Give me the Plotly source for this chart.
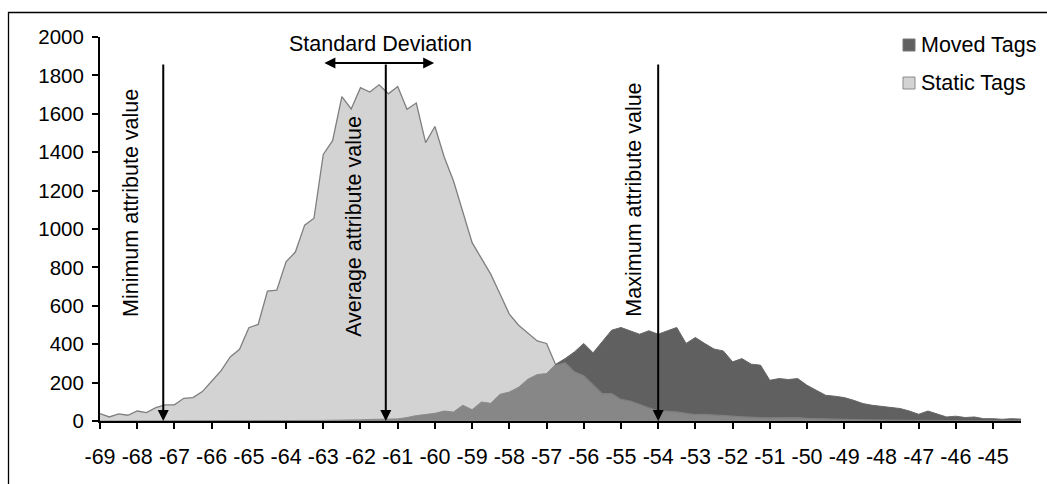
import plotly.graph_objects as go

# RSSI bins (dBm), quarter-dB resolution
rssi = [-69 + 0.25 * k for k in range(100)]

static_tags = [
    39, 21, 37, 30, 52, 44, 70, 84, 84, 118,
    122, 153, 207, 261, 334, 373, 486, 503, 677, 681,
    829, 880, 1020, 1056, 1388, 1460, 1690, 1625, 1736, 1713,
    1751, 1704, 1742, 1624, 1656, 1450, 1534, 1375, 1250, 1090,
    929, 847, 765, 661, 557, 499, 456, 417, 404, 290,
    303, 256, 236, 190, 142, 143, 112, 104, 85, 69,
    52, 48, 47, 39, 33, 34, 32, 30, 25, 22,
    18, 17, 16, 17, 20, 18, 14, 12, 10, 9,
    8, 7, 6, 5, 5, 4, 4, 3, 3, 3,
    2, 2, 2, 2, 1, 1, 1, 1, 1, 1,
]

moved_tags = [
    0, 0, 0, 0, 0, 0, 0, 0, 0, 0,
    0, 0, 1, 1, 1, 1, 1, 2, 2, 2,
    2, 2, 3, 3, 3, 4, 4, 5, 6, 8,
    9, 9, 11, 18, 28, 34, 40, 52, 47, 82,
    59, 99, 92, 139, 151, 176, 218, 242, 247, 296,
    325, 360, 404, 355, 412, 473, 487, 470, 452, 470,
    452, 470, 487, 404, 435, 404, 375, 365, 308, 325,
    296, 291, 212, 221, 216, 221, 186, 160, 134, 129,
    122, 108, 91, 82, 77, 73, 65, 52, 35, 52,
    35, 21, 25, 18, 21, 12, 12, 9, 12, 10,
]

x_ticks = list(range(-69, -44))
x_tick_text = [str(v) for v in x_ticks]  # plain hyphen-minus
y_ticks = list(range(0, 2001, 200))

# marker positions (dBm) and arrow top (count)
min_value = -67.3
avg_value = -61.32
max_value = -54.0
std_low, std_high = -63.01, -60.02
arrow_top = 1865

FONT = "Liberation Sans, Arial, sans-serif"
FS = 21.5

W, H = 1047, 484
ML, MR, MT, MB = 100, 26, 37, 63
PW, PH = W - ML - MR, H - MT - MB


def px(xp):
    return (xp - ML) / PW


def py(yp):
    return (H - MB - yp) / PH


fig = go.Figure()
fig.add_trace(go.Scatter(
    x=rssi, y=moved_tags, mode="lines", fill="tozeroy",
    fillcolor="#606060", line=dict(color="#676767", width=1),
    name="Moved Tags", showlegend=False, hoverinfo="skip",
))
fig.add_trace(go.Scatter(
    x=rssi, y=static_tags, mode="lines", fill="tozeroy",
    fillcolor="rgba(171,171,171,0.525)", line=dict(color="#7f7f7f", width=1.3),
    name="Static Tags", showlegend=False, hoverinfo="skip",
))

annotations = []


def v_arrow(xv):
    annotations.append(dict(
        x=xv, y=0, ax=xv, ay=arrow_top, xref="x", yref="y", axref="x", ayref="y",
        showarrow=True, arrowhead=2, arrowsize=1.1, arrowwidth=2,
        arrowcolor="black", text="",
    ))


for v in (min_value, avg_value, max_value):
    v_arrow(v)

annotations.append(dict(
    x=std_high, y=arrow_top, ax=std_low, ay=arrow_top,
    xref="x", yref="y", axref="x", ayref="y",
    showarrow=True, arrowhead=2, startarrowhead=2, arrowside="end+start",
    arrowsize=1.1, startarrowsize=1.1, arrowwidth=2, arrowcolor="black", text="",
))


def label(text, xv, yv, angle=-90):
    annotations.append(dict(
        x=xv, y=yv, xref="x", yref="y", text=text, showarrow=False,
        textangle=angle, font=dict(family=FONT, size=FS, color="black"),
        xanchor="center", yanchor="middle",
    ))


label("Minimum attribute value", -68.17, 1135)
label("Average attribute value", -62.17, 1012)
label("Maximum attribute value", -54.66, 1151)
label("Standard Deviation", -61.47, 1965, angle=0)

# legend
shapes = [
    dict(type="rect", xref="paper", yref="paper",
         x0=px(903), x1=px(915), y0=py(51), y1=py(39),
         fillcolor="#606060", line=dict(color="#767676", width=1)),
    dict(type="rect", xref="paper", yref="paper",
         x0=px(903), x1=px(915), y0=py(89), y1=py(77),
         fillcolor="#d3d3d3", line=dict(color="#8a8a8a", width=1)),
    # chart frame
    dict(type="rect", xref="paper", yref="paper",
         x0=px(8.5), x1=px(1070), y0=py(520), y1=py(12.5),
         fillcolor="rgba(0,0,0,0)", line=dict(color="black", width=1.3)),
]
for txt, yc in (("Moved Tags", 45), ("Static Tags", 83)):
    annotations.append(dict(
        x=px(919), y=py(yc), xref="paper", yref="paper", text=txt,
        showarrow=False, xanchor="left", yanchor="middle",
        font=dict(family=FONT, size=FS, color="black"),
    ))

axis_common = dict(
    showgrid=False, zeroline=False, showline=True, linecolor="black",
    linewidth=2, ticks="outside", ticklen=6, tickwidth=1.5, tickcolor="black",
    fixedrange=True,
)

fig.update_layout(
    width=W, height=H, autosize=False,
    margin=dict(l=ML, r=MR, t=MT, b=MB),
    paper_bgcolor="white", plot_bgcolor="white",
    xaxis=dict(range=[-69, -44.25], tickvals=x_ticks, ticktext=x_tick_text,
               tickangle=0, ticklabelstandoff=9,
               tickfont=dict(family=FONT, size=FS, color="black"), **axis_common),
    yaxis=dict(range=[0, 2000], tickvals=y_ticks, ticklabelstandoff=4,
               tickfont=dict(family=FONT, size=20.5, color="black"), **axis_common),
    annotations=annotations, shapes=shapes, showlegend=False,
)

fig.write_html("out.html")
